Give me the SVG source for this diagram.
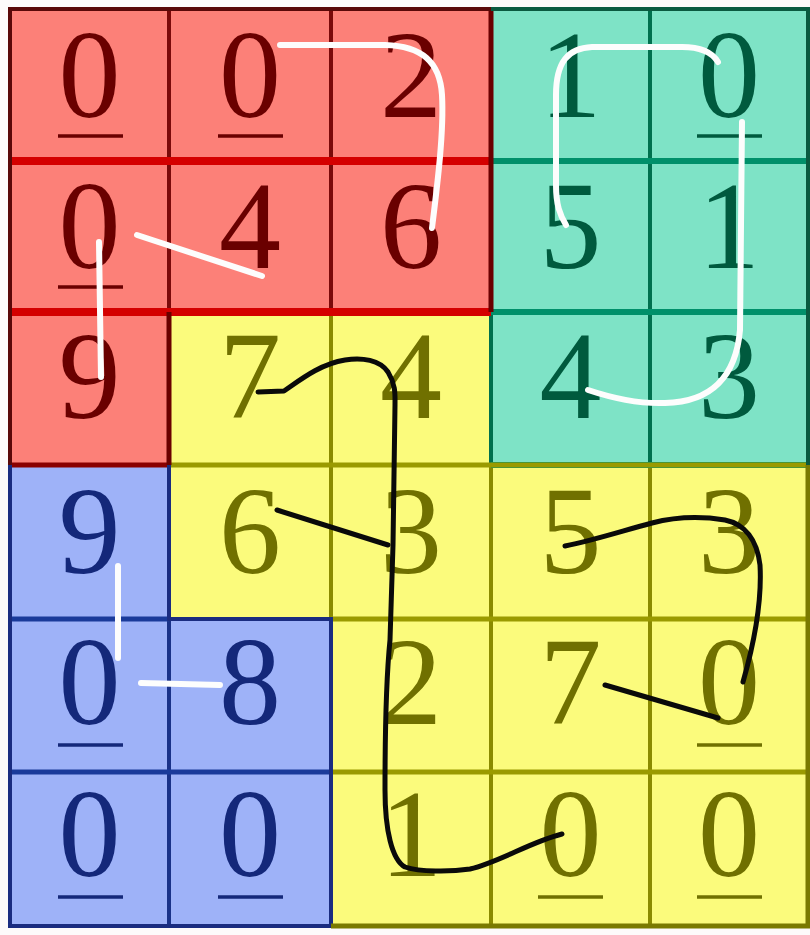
<svg xmlns="http://www.w3.org/2000/svg" width="810" height="935" viewBox="0 0 810 935">
<style>
.d{font-family:"Liberation Serif","Times New Roman",serif;font-size:124px;text-anchor:middle}
.R rect{fill:#fc8078;stroke:#7a0a0a;stroke-width:4}
.T rect{fill:#7ee3c6;stroke:#00704e;stroke-width:4}
.B rect{fill:#9eb2f8;stroke:#1a3288;stroke-width:4}
.Y rect{fill:#fbfb7c;stroke:#8a8a00;stroke-width:4}
.R text{fill:#6a0000}.T text{fill:#005a3e}.B text{fill:#14287a}.Y text{fill:#707000}
.R line{stroke:#6a0000}.T line{stroke:#005a3e}.B line{stroke:#14287a}.Y line{stroke:#707000}
.u{stroke-width:3.5}
.w{fill:none;stroke:#fdfdfd;stroke-width:6;stroke-linecap:round;stroke-linejoin:round}
.k{fill:none;stroke:#0a0a0a;stroke-width:5;stroke-linecap:round;stroke-linejoin:round}
</style>
<rect width="810" height="935" fill="#fdfafa"/>
<g id="cells">
<g id="c00" class="R"><rect x="10" y="9" width="159" height="152"/><text class="d" x="89.5" y="117">0</text><line class="u" x1="58" y1="136" x2="123" y2="136"/></g>
<g id="c01" class="R"><rect x="169" y="9" width="162" height="152"/><text class="d" x="250" y="117">0</text><line class="u" x1="218" y1="136" x2="283" y2="136"/></g>
<g id="c02" class="R"><rect x="331" y="9" width="160" height="152"/><text class="d" x="411" y="117">2</text></g>
<g id="c03" class="T"><rect x="491" y="9" width="159" height="152"/><text class="d" x="570.5" y="117">1</text></g>
<g id="c04" class="T"><rect x="650" y="9" width="158" height="152"/><text class="d" x="729" y="117">0</text><line class="u" x1="697" y1="136" x2="762" y2="136"/></g>

<g id="c10" class="R"><rect x="10" y="161" width="159" height="151"/><text class="d" x="89.5" y="268">0</text><line class="u" x1="58" y1="287" x2="123" y2="287"/></g>
<g id="c11" class="R"><rect x="169" y="161" width="162" height="151"/><text class="d" x="250" y="268">4</text></g>
<g id="c12" class="R"><rect x="331" y="161" width="160" height="151"/><text class="d" x="411" y="268">6</text></g>
<g id="c13" class="T"><rect x="491" y="161" width="159" height="151"/><text class="d" x="570.5" y="268">5</text></g>
<g id="c14" class="T"><rect x="650" y="161" width="158" height="151"/><text class="d" x="729" y="268">1</text></g>

<g id="c20" class="R"><rect x="10" y="312" width="159" height="153"/><text class="d" x="89.5" y="418">9</text></g>
<g id="c21" class="Y"><rect x="169" y="312" width="162" height="153"/><text class="d" x="250" y="418">7</text></g>
<g id="c22" class="Y"><rect x="331" y="312" width="160" height="153"/><text class="d" x="411" y="418">4</text></g>
<g id="c23" class="T"><rect x="491" y="312" width="159" height="153"/><text class="d" x="570.5" y="418">4</text></g>
<g id="c24" class="T"><rect x="650" y="312" width="158" height="153"/><text class="d" x="729" y="418">3</text></g>

<g id="c30" class="B"><rect x="10" y="465" width="159" height="154"/><text class="d" x="89.5" y="573">9</text></g>
<g id="c31" class="Y"><rect x="169" y="465" width="162" height="154"/><text class="d" x="250" y="573">6</text></g>
<g id="c32" class="Y"><rect x="331" y="465" width="160" height="154"/><text class="d" x="411" y="573">3</text></g>
<g id="c33" class="Y"><rect x="491" y="465" width="159" height="154"/><text class="d" x="570.5" y="573">5</text></g>
<g id="c34" class="Y"><rect x="650" y="465" width="158" height="154"/><text class="d" x="729" y="573">3</text></g>

<g id="c40" class="B"><rect x="10" y="619" width="159" height="153"/><text class="d" x="89.5" y="724">0</text><line class="u" x1="58" y1="745" x2="123" y2="745"/></g>
<g id="c41" class="B"><rect x="169" y="619" width="162" height="153"/><text class="d" x="250" y="724">8</text></g>
<g id="c42" class="Y"><rect x="331" y="619" width="160" height="153"/><text class="d" x="411" y="724">2</text></g>
<g id="c43" class="Y"><rect x="491" y="619" width="159" height="153"/><text class="d" x="570.5" y="724">7</text></g>
<g id="c44" class="Y"><rect x="650" y="619" width="158" height="153"/><text class="d" x="729" y="724">0</text><line class="u" x1="697" y1="745" x2="762" y2="745"/></g>

<g id="c50" class="B"><rect x="10" y="772" width="159" height="154"/><text class="d" x="89.5" y="876">0</text><line class="u" x1="58" y1="897" x2="123" y2="897"/></g>
<g id="c51" class="B"><rect x="169" y="772" width="162" height="154"/><text class="d" x="250" y="876">0</text><line class="u" x1="218" y1="897" x2="283" y2="897"/></g>
<g id="c52" class="Y"><rect x="331" y="772" width="160" height="154"/><text class="d" x="411" y="876">1</text></g>
<g id="c53" class="Y"><rect x="491" y="772" width="159" height="154"/><text class="d" x="570.5" y="876">0</text><line class="u" x1="538" y1="897" x2="603" y2="897"/></g>
<g id="c54" class="Y"><rect x="650" y="772" width="158" height="154"/><text class="d" x="729" y="876">0</text><line class="u" x1="697" y1="897" x2="762" y2="897"/></g>
</g>
<g id="bands" fill="none">
<path d="M10 161H491M10 312H491" stroke="#d40000" stroke-width="8"/>
<path d="M491 161H808M491 312H808M491 465H808" stroke="#00906a" stroke-width="6"/>
<path d="M10 619H169M10 772H331" stroke="#1a3a9a" stroke-width="5"/>
<path d="M169 465H808M331 619H808M331 772H808" stroke="#9a9a00" stroke-width="5"/>
<path d="M10 465H169" stroke="#8a0000" stroke-width="5"/>
<path d="M169 312V465M491 9V312" stroke="#6a0000" stroke-width="5"/>
<path d="M10 465V926H331V619H169V465" stroke="#1a2c80" stroke-width="4"/>
<path d="M331 926H808V465" stroke="#7a7a00" stroke-width="5"/>
<path d="M10 465V9H491" stroke="#5a0808" stroke-width="4"/>
<path d="M491 9H808V465" stroke="#0a5a40" stroke-width="4"/>
</g>
<g id="connectors">
<path class="w" d="M432 228C438 180 444 130 442 95C440 62 422 46 385 45L280 45"/>
<path class="w" d="M262 276L137 235"/>
<path class="w" d="M99 242L101 377"/>
<path class="w" d="M566 225C560 215 556 205 556 185L556 95C556 62 568 48 592 47L682 47C700 47 712 52 718 62"/>
<path class="w" d="M588 390C612 398 640 404 665 403C712 402 736 376 740 330L742 122"/>
<path class="w" d="M118 566L118 658"/>
<path class="w" d="M141 683L220 685"/>
<path class="k" d="M258 392L284 391C300 380 320 364 345 360C362 357 380 360 388 372C396 385 395 395 395 405L393 545L390 640C386 680 385 720 385 790C385 830 392 860 405 867C420 872 450 872 470 869C500 862 530 842 562 834"/>
<path class="k" d="M277 510L388 545"/>
<path class="k" d="M565 546C595 540 625 530 652 523C675 517 700 516 725 520C745 524 757 540 760 565C762 600 755 640 743 682"/>
<path class="k" d="M605 685L718 718"/>
</g>
</svg>
